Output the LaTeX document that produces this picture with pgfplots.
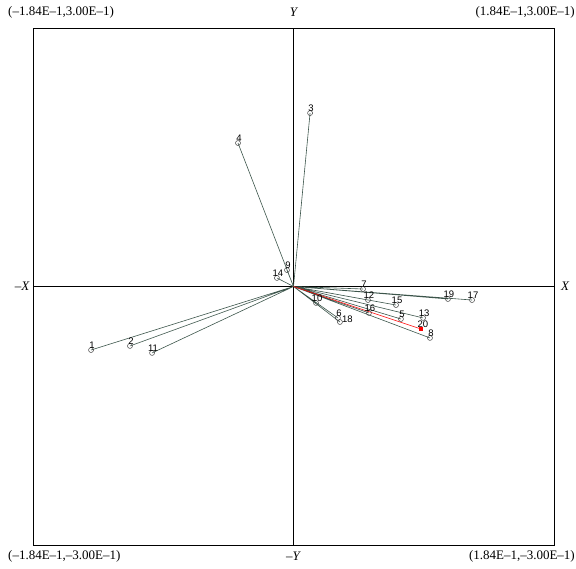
\documentclass[border=0pt]{standalone}
\usepackage{pgfplots}
\pgfplotsset{compat=1.18}
\usepackage{pgfplotstable}
\usepackage{fontspec}
\setmainfont{Liberation Serif}
\newfontfamily\lab{Liberation Sans}
\definecolor{vec}{RGB}{60,85,75}
% values in units of 1E-2
\pgfplotstableread{
lab x y
1 -14.30 -7.37
2 -11.55 -6.90
11 -9.99 -7.71
4 -3.92 16.65
3 1.17 20.13
9 -0.46 1.91
14 -1.17 0.99
7 4.91 -0.29
12 5.26 -1.57
15 7.24 -2.15
19 10.91 -1.45
17 12.61 -1.57
10 1.59 -1.91
6 3.14 -3.65
16 5.33 -3.07
5 7.59 -3.77
13 9.15 -3.65
8 9.64 -5.97
}\pts
\pgfplotstableread{
lab x y
18 3.28 -4.12
}\side
\pgfplotstableread{
lab x y
20 9.00 -4.93
}\red
\pgfplotstableread{
x y
0 0
-14.30 -7.37
nan nan
0 0
-11.55 -6.90
nan nan
0 0
-9.99 -7.71
nan nan
0 0
-3.92 16.65
nan nan
0 0
1.17 20.13
nan nan
0 0
-0.46 1.91
nan nan
0 0
-1.17 0.99
nan nan
0 0
4.91 -0.29
nan nan
0 0
5.26 -1.57
nan nan
0 0
7.24 -2.15
nan nan
0 0
10.91 -1.45
nan nan
0 0
12.61 -1.57
nan nan
0 0
1.59 -1.91
nan nan
0 0
3.14 -3.65
nan nan
0 0
3.28 -4.12
nan nan
0 0
5.33 -3.07
nan nan
0 0
7.59 -3.77
nan nan
0 0
9.15 -3.65
nan nan
0 0
9.64 -5.97
}\segs
\begin{document}
\begin{tikzpicture}
\path[use as bounding box] (0pt,0pt) rectangle (576pt,568pt);
\begin{axis}[
  at={(33pt,23pt)}, anchor=south west,
  width=521pt, height=517pt, scale only axis,
  xmin=-18.4, xmax=18.4, ymin=-30, ymax=30,
  xtick=\empty, ytick=\empty,
  axis line style={black, line width=0.8pt},
  clip=false, unbounded coords=jump,
]
\addplot[black, line width=0.8pt, mark=none] coordinates {(0,-30) (0,30)};
\addplot[black, line width=0.8pt, mark=none] coordinates {(-18.4,0) (18.4,0)};
\addplot[vec, line width=0.6pt, mark=none] table {\segs};
\addplot[red, line width=0.6pt, mark=none] coordinates {(0,0) (9.00,-4.93)};
\addplot[only marks, mark=o, mark size=2.5pt, mark options={draw=black!75, fill=white, line width=0.5pt},
  nodes near coords, point meta=explicit symbolic,
  every node near coord/.append style={font=\lab\fontsize{9.5}{10}\selectfont, anchor=south, xshift=1pt, yshift=1.5pt, inner sep=0pt}]
  table[x=x, y=y, meta=lab] {\pts};
\addplot[only marks, mark=o, mark size=2.5pt, mark options={draw=black!75, fill=white, line width=0.5pt},
  nodes near coords, point meta=explicit symbolic,
  every node near coord/.append style={font=\lab\fontsize{9.5}{10}\selectfont, anchor=south west, xshift=2pt, yshift=-1pt, inner sep=0pt}]
  table[x=x, y=y, meta=lab] {\side};
\addplot[only marks, mark=square*, mark size=1.5pt, mark options={fill=red, draw=red},
  nodes near coords, point meta=explicit symbolic,
  every node near coord/.append style={font=\lab\fontsize{9.5}{10}\selectfont, anchor=south, xshift=2pt, yshift=1.5pt, inner sep=0pt}]
  table[x=x, y=y, meta=lab] {\red};
\end{axis}
\node[font=\fontsize{13}{15}\selectfont, anchor=west, inner sep=0pt] at (8pt,556pt) {(\textendash1.84E\textendash1,3.00E\textendash1)};
\node[font=\fontsize{13}{15}\selectfont, anchor=east, inner sep=0pt] at (575pt,556pt) {(1.84E\textendash1,3.00E\textendash1)};
\node[font=\fontsize{13}{15}\selectfont, anchor=west, inner sep=0pt] at (8pt,12pt) {(\textendash1.84E\textendash1,\textendash3.00E\textendash1)};
\node[font=\fontsize{13}{15}\selectfont, anchor=east, inner sep=0pt] at (575pt,12pt) {(1.84E\textendash1,\textendash3.00E\textendash1)};
\node[font=\fontsize{13}{15}\selectfont\itshape, inner sep=0pt] at (293.5pt,556pt) {Y};
\node[font=\fontsize{13}{15}\selectfont, inner sep=0pt] at (293.5pt,12pt) {\textendash\textit{Y}};
\node[font=\fontsize{13}{15}\selectfont, anchor=east, inner sep=0pt] at (30pt,282pt) {\textendash\textit{X}};
\node[font=\fontsize{13}{15}\selectfont\itshape, anchor=west, inner sep=0pt] at (561pt,282pt) {X};
\end{tikzpicture}
\end{document}
